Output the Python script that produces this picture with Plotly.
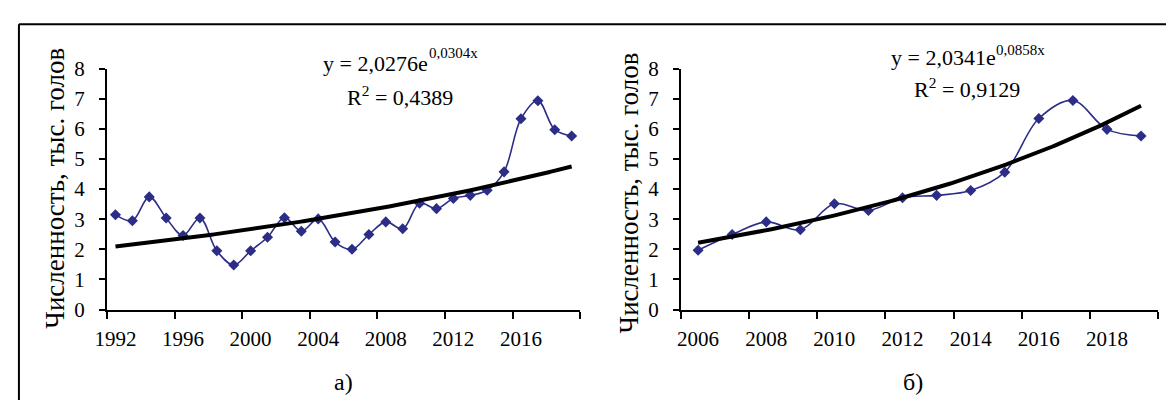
import numpy as np
import plotly.graph_objects as go

# ---- data ----
years_a = list(range(1992, 2020))
values_a = [3.15, 2.95, 3.74, 3.04, 2.46, 3.04, 1.95, 1.48, 1.95, 2.40,
            3.05, 2.60, 3.01, 2.24, 2.00, 2.49, 2.91, 2.68, 3.53, 3.35,
            3.69, 3.79, 3.96, 4.57, 6.33, 6.93, 5.97, 5.76]
years_b = list(range(2006, 2020))
values_b = [1.97, 2.49, 2.91, 2.65, 3.51, 3.29, 3.71, 3.79, 3.95, 4.56,
            6.34, 6.94, 5.98, 5.76]

# exponential trend y = a * exp(b * x), x = 1..N (as shown on chart)
trend_a = (2.0276, 0.0304)
trend_b = (2.0341, 0.0858)
eq_main_a, eq_exp_a, eq_r2_a = "y = 2,0276e", "0,0304x", "R<sup>2</sup> = 0,4389"
eq_main_b, eq_exp_b, eq_r2_b = "y = 2,0341e", "0,0858x", "R<sup>2</sup> = 0,9129"

ticks_a = list(range(1992, 2020, 4))
ticks_b = list(range(2006, 2020, 2))
y_title = "Численность, тыс. голов"
panel_labels = ["а)", "б)"]

NAVY = "#2B2D86"
FONT = "Liberation Serif"
W, H = 1166, 412


def trend_curve(years, coef):
    n = len(years)
    xs = np.linspace(1, n, 200)
    return years[0] - 1 + xs, coef[0] * np.exp(coef[1] * xs)


fig = go.Figure()
for years, vals, coef, xa, ya in [(years_a, values_a, trend_a, "x", "y"),
                                  (years_b, values_b, trend_b, "x2", "y2")]:
    fig.add_trace(go.Scatter(
        x=years, y=vals, mode="lines+markers", xaxis=xa, yaxis=ya,
        line=dict(color=NAVY, width=1.6, shape="spline", smoothing=1.0),
        marker=dict(symbol="diamond", size=8.5, color=NAVY),
        showlegend=False, hoverinfo="skip"))
    tx, ty = trend_curve(years, coef)
    fig.add_trace(go.Scatter(
        x=tx, y=ty, mode="lines", xaxis=xa, yaxis=ya,
        line=dict(color="black", width=4),
        showlegend=False, hoverinfo="skip"))


def px_x(p):
    return p / W


def px_y(p):
    return 1 - p / H


ydom = [px_y(316), px_y(60)]
common_x = dict(
    showline=True, linecolor="black", linewidth=2, showgrid=False,
    zeroline=False, ticks="", ticklabelstandoff=9,
    tickfont=dict(family=FONT, size=21, color="black"),
)
common_y = dict(
    range=[0, 8], dtick=1, tick0=0, showline=True, linecolor="black",
    linewidth=2, showgrid=False, zeroline=False, ticks="outside",
    ticklen=6, tickwidth=2, tickcolor="black", ticklabelstandoff=10,
    tickfont=dict(family=FONT, size=21, color="black"),
)

fig.update_layout(
    width=W, height=H, margin=dict(l=0, r=0, t=0, b=0),
    paper_bgcolor="white", plot_bgcolor="white",
    font=dict(family=FONT, color="black"),
    xaxis=dict(domain=[px_x(96), px_x(574)], anchor="y",
               range=[years_a[0] - 0.5, years_a[-1] + 0.5],
               tickvals=ticks_a, ticktext=[str(t) for t in ticks_a],
               minor=dict(tickvals=[t - 0.5 for t in ticks_a] + [years_a[-1] + 0.5],
                          ticks="outside", ticklen=7, tickwidth=2, tickcolor="black"),
               **common_x),
    yaxis=dict(domain=ydom, anchor="x", **common_y),
    xaxis2=dict(domain=[px_x(676), px_x(1158)], anchor="y2",
                range=[years_b[0] - 0.5, years_b[-1] + 0.5],
                tickvals=ticks_b, ticktext=[str(t) for t in ticks_b],
                minor=dict(tickvals=[t - 0.5 for t in ticks_b] + [years_b[-1] + 0.5],
                           ticks="outside", ticklen=7, tickwidth=2, tickcolor="black"),
                **common_x),
    yaxis2=dict(domain=ydom, anchor="x2", **common_y),
)

ann = []


def add_text(txt, x, y, size, xanchor="left", yanchor="bottom", angle=0):
    ann.append(dict(text=txt, x=px_x(x), y=px_y(y), xref="paper", yref="paper",
                    textangle=angle, showarrow=False, xanchor=xanchor, yanchor=yanchor,
                    font=dict(family=FONT, size=size, color="black")))


# axis titles
add_text(y_title, 44, 187, 27, "center", "middle", -90)
add_text(y_title, 623, 192, 27, "center", "middle", -90)
# equations (bottom anchor ~ baseline + descent)
add_text(eq_main_a, 312, 70, 22)
add_text(eq_exp_a, 419, 54, 15)
add_text(eq_r2_a, 336, 106, 22)
add_text(eq_main_b, 886, 64, 22)
add_text(eq_exp_b, 992, 51, 15)
add_text(eq_r2_b, 909, 98, 22)
# panel labels
add_text(panel_labels[0], 335, 393, 24, "center", "middle")
add_text(panel_labels[1], 910, 393, 24, "center", "middle")
fig.update_layout(annotations=ann)

# frame (top and left edges visible)
fig.update_layout(shapes=[
    dict(type="line", xref="paper", yref="paper", x0=px_x(7), x1=1, y0=px_y(13), y1=px_y(13),
         line=dict(color="black", width=2)),
    dict(type="line", xref="paper", yref="paper", x0=px_x(7), x1=px_x(7), y0=px_y(13), y1=0,
         line=dict(color="black", width=2)),
])

fig.write_html("out.html")
